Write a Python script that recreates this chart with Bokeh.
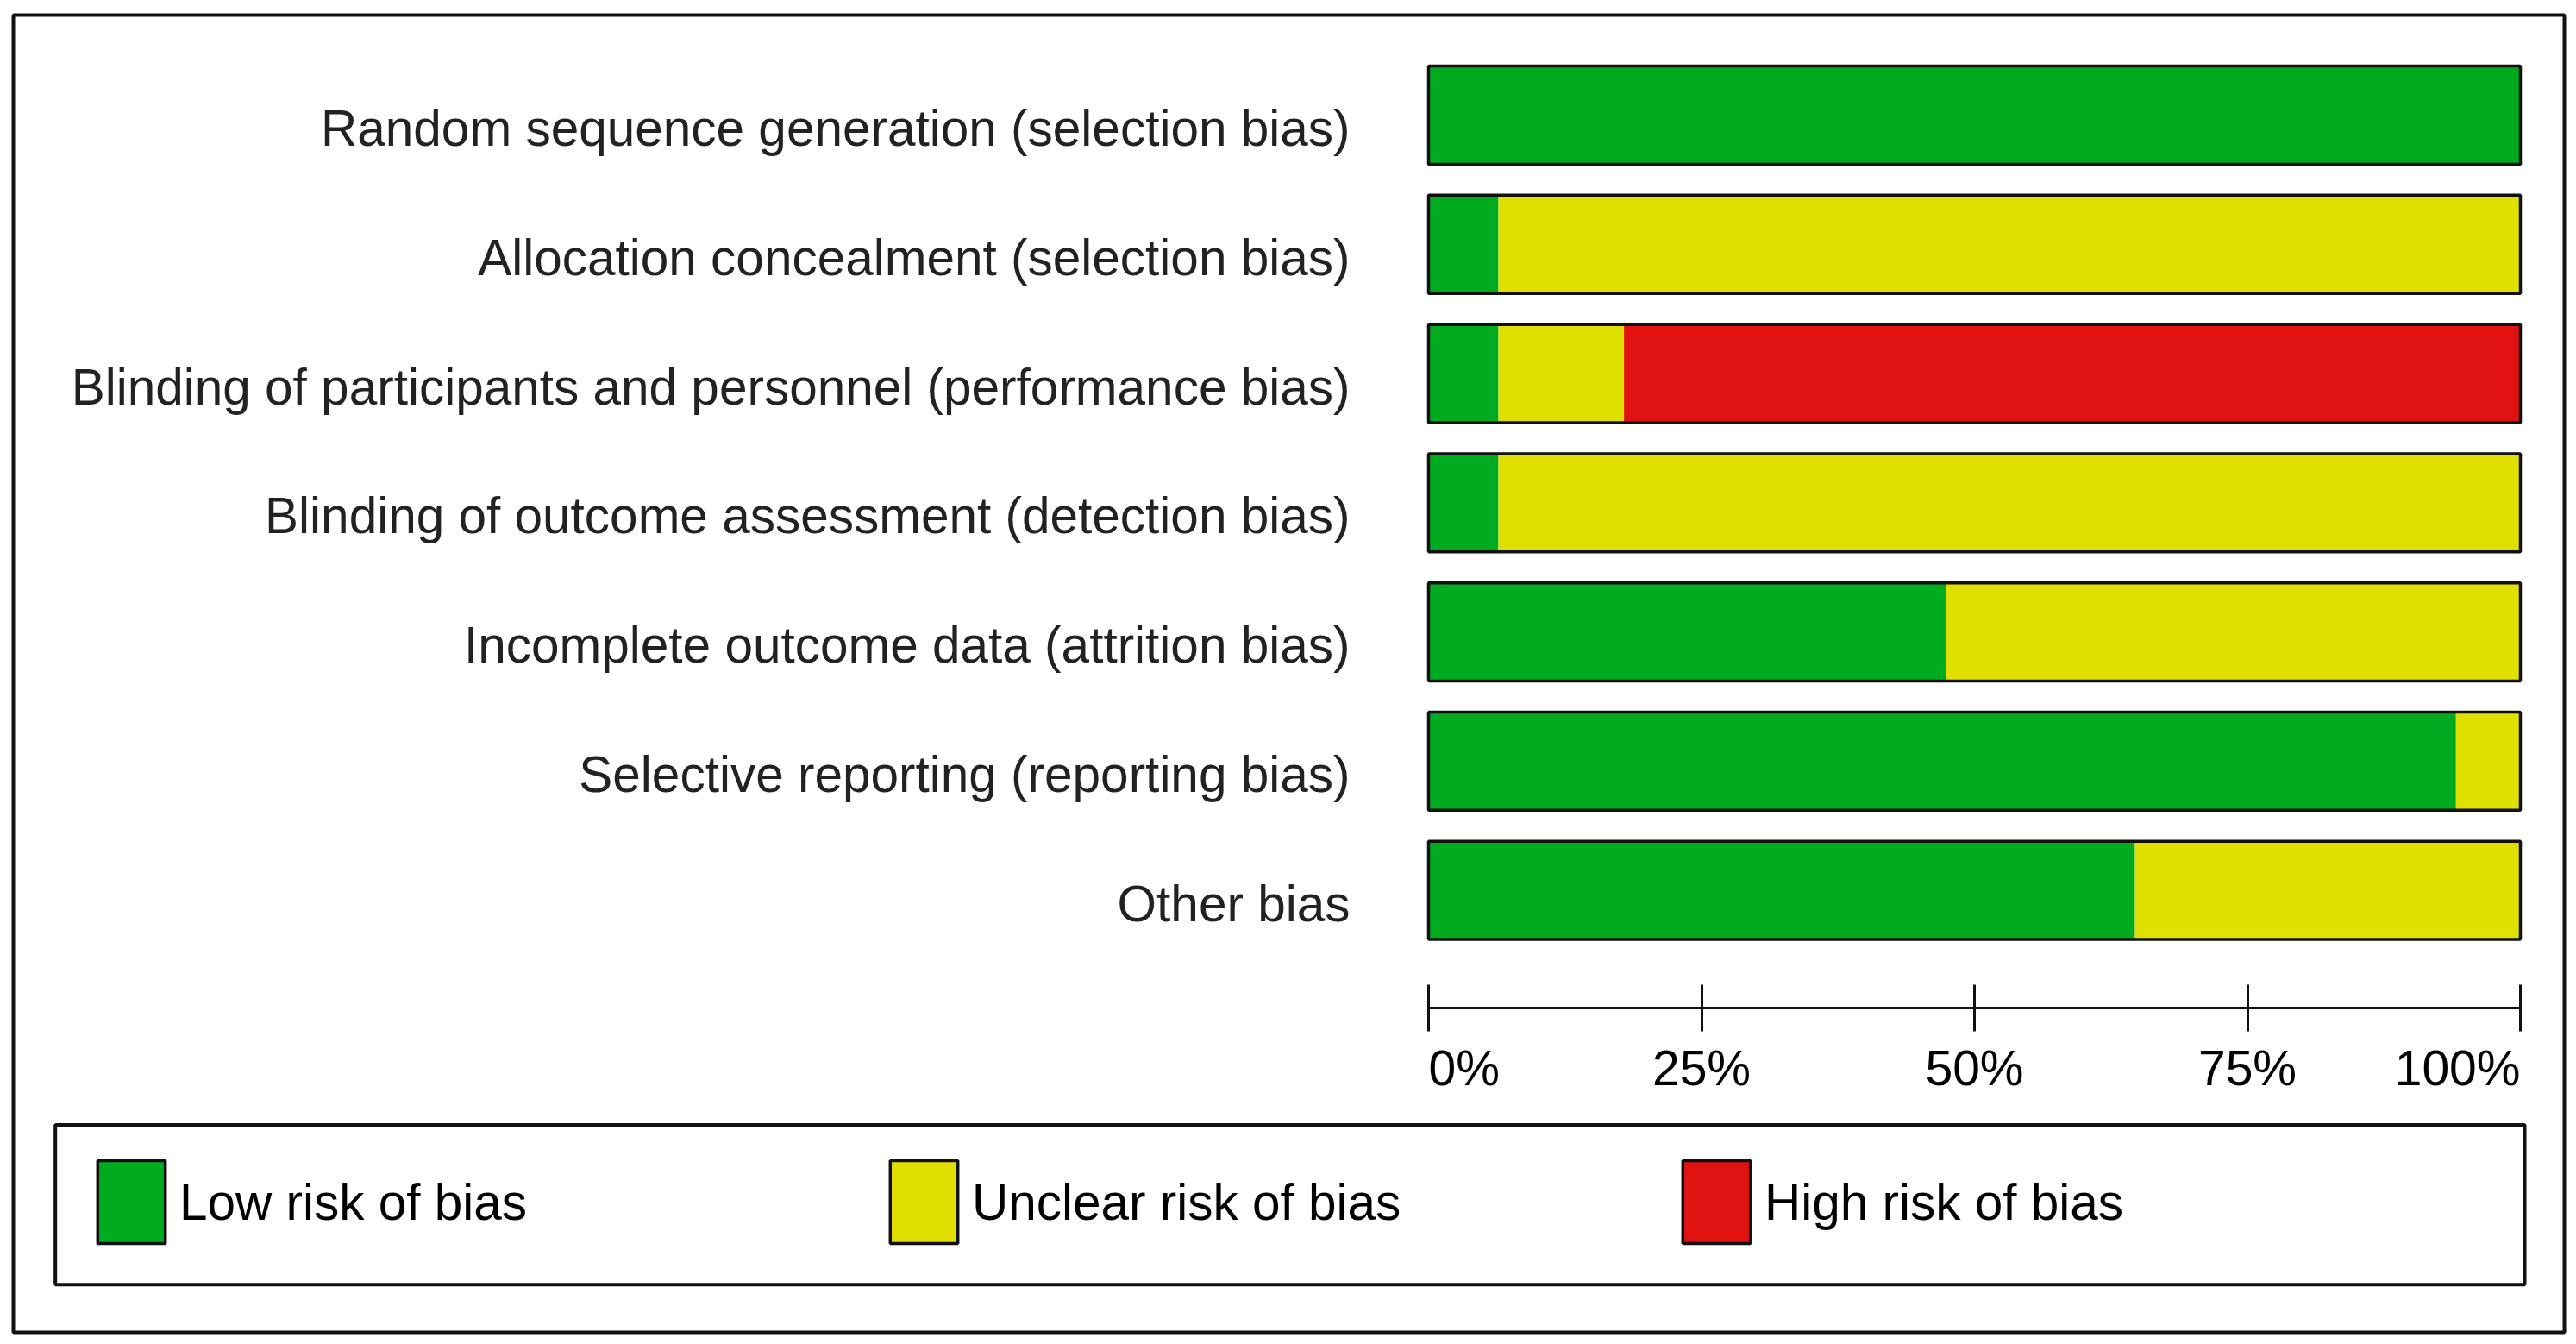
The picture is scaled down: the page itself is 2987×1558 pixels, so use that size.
import numpy as np
from bokeh.plotting import figure
from bokeh.models import (ColumnDataSource, LinearAxis, FixedTicker, Legend,
                          LegendItem, Range1d)
from bokeh.core.properties import value
from bokeh.embed import file_html
from bokeh.resources import INLINE

# ---------------- data ----------------
categories = [
    "Random sequence generation (selection bias)",
    "Allocation concealment (selection bias)",
    "Blinding of participants and personnel (performance bias)",
    "Blinding of outcome assessment (detection bias)",
    "Incomplete outcome data (attrition bias)",
    "Selective reporting (reporting bias)",
    "Other bias",
]
low_risk = [100.0, 6.4, 6.4, 6.4, 47.4, 94.1, 64.7]
unclear_risk = [0.0, 93.6, 11.5, 93.6, 52.6, 5.9, 35.3]
high_risk = [0.0, 0.0, 82.1, 0.0, 0.0, 0.0, 0.0]
risk_labels = ["Low risk of bias", "Unclear risk of bias", "High risk of bias"]
risk_colors = ["#00AB1F", "#E0E000", "#E01212"]
tick_values = [0, 25, 50, 75, 100]
tick_labels = ["0%", "25%", "50%", "75%", "100%"]

# ---------------- layout (pixels on the canvas) ----------------
W, H = 2979, 1550
FRAME_L, FRAME_R, FRAME_T, FRAME_B = 15, 2973, 17, 1544
X0_PX, X100_PX = 1656.0, 2922.0
ROW_TOP_PX, ROW_BOT_PX = 133.0, 1031.7
AXIS_PX = 1168.3
TICKLABEL_BASE_PX = 1237.0
LEG_BOX = dict(l=63.7, r=2927.0, t=1303.5, b=1488.7)
FONT_NAME = "Liberation Sans"
FONT = value(FONT_NAME)
FS = "58.5px"
FS_TICK = "57px"

n = len(categories)
sx = (X100_PX - X0_PX) / 100.0
sy = (ROW_BOT_PX - ROW_TOP_PX) / (n - 1)


def px_x(px):
    return (px - X0_PX) / sx


def px_y(py):
    return (ROW_BOT_PX - py) / sy


ypos = [float(n - 1 - i) for i in range(n)]
total = [a + b + c for a, b, c in zip(low_risk, unclear_risk, high_risk)]
source = ColumnDataSource(dict(y=ypos, low=low_risk, unclear=unclear_risk,
                               high=high_risk, total=total))

p = figure(width=W, height=H, output_backend="svg", toolbar_location=None,
           tools="",
           x_range=Range1d(px_x(FRAME_L), px_x(FRAME_R)),
           y_range=Range1d(px_y(FRAME_B), px_y(FRAME_T)),
           x_axis_location=None, y_axis_location=None,
           min_border_left=FRAME_L, min_border_right=W - FRAME_R,
           min_border_top=FRAME_T, min_border_bottom=H - FRAME_B)
p.grid.visible = False
p.outline_line_color = "#111111"
p.outline_line_width = 4
p.background_fill_color = "white"
p.border_fill_color = "white"

BAR_H = 0.76
segs = p.hbar_stack(["low", "unclear", "high"], y="y", height=BAR_H,
                    fill_color=risk_colors, line_color=None, source=source)
outline = p.hbar(y="y", left=0, right="total", height=BAR_H, fill_color=None,
                 line_color="#111111", line_width=3.5, source=source)

# category labels: axis fixed at x = 0
label_ticks = [round(y - 0.1, 3) for y in ypos]
yaxis = LinearAxis(ticker=FixedTicker(ticks=label_ticks), fixed_location=0,
                   major_label_overrides={t: c for t, c in zip(label_ticks, categories)},
                   axis_line_color=None, major_tick_line_color=None,
                   minor_tick_line_color=None, major_tick_in=0, major_tick_out=0,
                   major_label_standoff=91, major_label_text_font=FONT_NAME,
                   major_label_text_font_size=FS, major_label_text_color="#222222")
p.add_layout(yaxis, "left")

# percentage axis (line + ticks)
xaxis = LinearAxis(ticker=FixedTicker(ticks=tick_values), fixed_location=px_y(AXIS_PX),
                   bounds=(0, 100), axis_line_width=3, axis_line_color="#111111",
                   major_tick_in=27, major_tick_out=27, major_tick_line_width=3,
                   major_tick_line_color="#111111", minor_tick_line_color=None,
                   major_label_text_color=None)
p.add_layout(xaxis, "below")

# tick labels: first left-aligned, last right-aligned, others centred
ly = px_y(TICKLABEL_BASE_PX)
for sl, align in ((slice(0, 1), "left"), (slice(1, -1), "center"), (slice(-1, None), "right")):
    vals = tick_values[sl]
    p.text(x=vals, y=[ly] * len(vals), text=tick_labels[sl], text_align=align,
           text_baseline="alphabetic", text_font=FONT, text_font_size=FS_TICK,
           text_color="black")

# legend box
p.quad(left=px_x(LEG_BOX["l"]), right=px_x(LEG_BOX["r"]), top=px_y(LEG_BOX["t"]),
       bottom=px_y(LEG_BOX["b"]), fill_color=None, line_color="#111111", line_width=4)

items = [LegendItem(label=lab, renderers=[r, outline]) for lab, r in zip(risk_labels, segs)]
GW, GH = 98, 120
legend = Legend(items=items, orientation="horizontal",
                location=(102.9 - FRAME_L, FRAME_B - 1453.3),
                glyph_width=GW, glyph_height=GH, label_standoff=7,
                label_width=919 - GW - 7, spacing=0, padding=0, margin=0,
                border_line_color=None, background_fill_color=None,
                label_text_font=FONT_NAME, label_text_font_size=FS,
                label_text_color="black")
p.add_layout(legend)

open("out.html", "w").write(file_html(p, INLINE))
